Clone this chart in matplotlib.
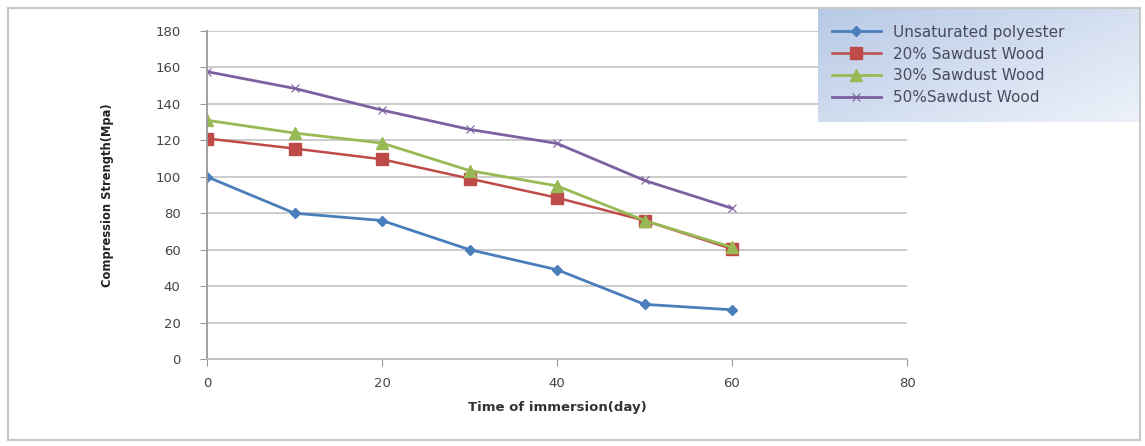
import numpy as np
import matplotlib
matplotlib.use("Agg")
from matplotlib import pyplot as plt
from matplotlib.patches import Rectangle

days = [0, 10, 20, 30, 40, 50, 60]

unsaturated = [100, 80, 76, 60, 49, 30, 27]
sawdust_20 = [121, 115.5, 109.6, 99, 88.5, 76, 60.4]
sawdust_30 = [131, 124, 118.5, 103.4, 95, 76, 61.3]
sawdust_50 = [157.7, 148.5, 136.6, 126, 118.3, 98, 82.7]

labels = ["Unsaturated polyester", "20% Sawdust Wood", "30% Sawdust Wood", "50%Sawdust Wood"]

W, H = 1145, 446
fig = plt.figure(figsize=(W / 100, H / 100), dpi=100)

# outer frame
fig.patches.append(Rectangle((8 / W, 6 / H), 1132 / W, 432 / H, transform=fig.transFigure,
                             fill=False, edgecolor="#c8c8c8", linewidth=1.5))

ax = fig.add_axes([207 / W, (H - 359) / H, 700 / W, 328 / H])

ax.plot(days, unsaturated, color="#4a7ebb", marker="D", markersize=5, linewidth=2, label=labels[0])
ax.plot(days, sawdust_20, color="#be4b48", marker="s", markersize=8, linewidth=1.8, label=labels[1])
ax.plot(days, sawdust_30, color="#98b954", marker="^", markersize=8, linewidth=2, label=labels[2])
ax.plot(days, sawdust_50, color="#7d60a0", marker="x", markersize=6, markeredgewidth=0.8,
        linewidth=2, label=labels[3])

ax.set_xlim(0, 80)
ax.set_ylim(0, 180)
ax.set_xticks(range(0, 81, 20))
ax.set_yticks(range(0, 181, 20))
ax.grid(axis="y", color="#c8c8c8", linewidth=1.3)
ax.set_axisbelow(True)

for s in ["top", "right"]:
    ax.spines[s].set_visible(False)
ax.spines["left"].set_color("#9a9a9a")
ax.spines["bottom"].set_color("#bdbdbd")
ax.spines["left"].set_linewidth(1.3)
ax.spines["bottom"].set_linewidth(1.3)
ax.tick_params(axis="both", colors="#9a9a9a", labelcolor="#444444", labelsize=9.5, length=5)
ax.tick_params(axis="x", pad=8)
ax.tick_params(axis="y", pad=14)

ax.set_xlabel("Time of immersion(day)", fontsize=9.5, fontweight="bold", color="#333333", labelpad=8)
ax.set_ylabel("Compression Strength(Mpa)", fontsize=8.3, fontweight="semibold", color="#222222",
              labelpad=30)

# legend box with gradient
legax = fig.add_axes([818 / W, (H - 122) / H, 322 / W, 114 / H])
gx = np.linspace(0, 1, 200)
gy = np.linspace(0, 1, 60)
grad = 0.55 * gx[None, :] + 0.45 * gy[:, None]
c0 = np.array([0.72, 0.79, 0.90])
c1 = np.array([0.93, 0.95, 0.98])
img = c0[None, None, :] * (1 - grad[:, :, None]) + c1[None, None, :] * grad[:, :, None]
legax.imshow(img, aspect="auto", extent=[0, 1, 0, 1])
legax.set_axis_off()

handles, labs = ax.get_legend_handles_labels()
leg = legax.legend(handles, labs, loc="center left", bbox_to_anchor=(0.0, 0.5), frameon=False,
                   fontsize=11, handlelength=3.2, labelspacing=0.45, labelcolor="#4a4a5e")

fig.savefig("out.png", dpi=100)
